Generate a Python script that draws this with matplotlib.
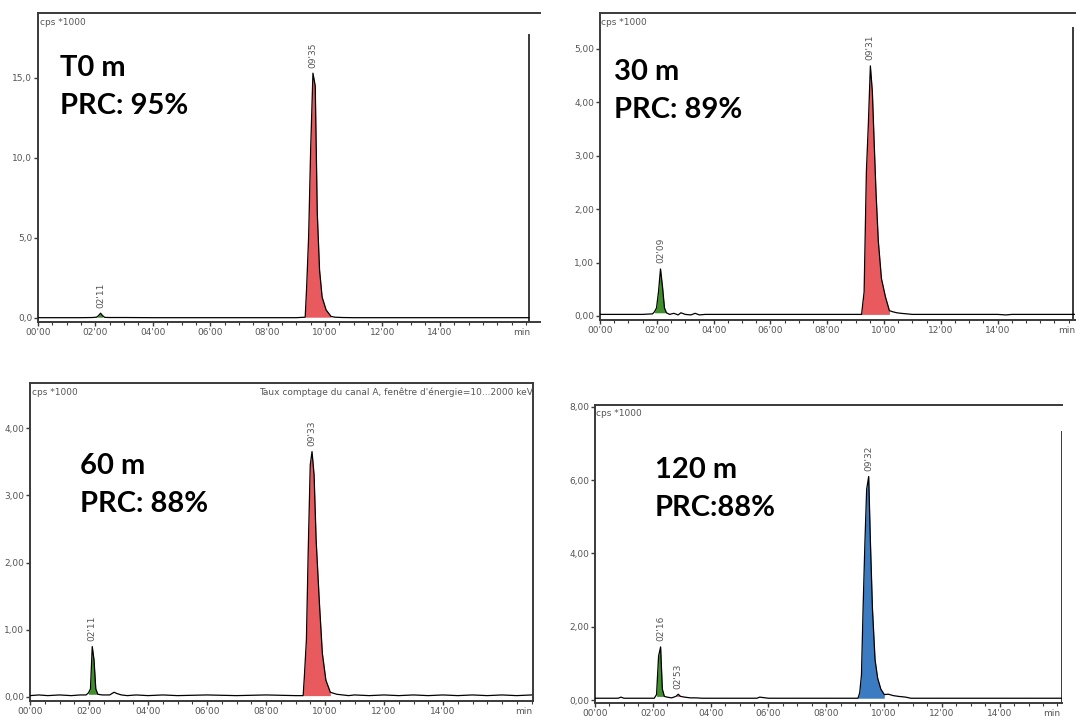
"""Four radio-HPLC chromatograms (T0, 30, 60, 120 min) in a 2x2 screenshot layout."""
import matplotlib
matplotlib.use("Agg")
import matplotlib.pyplot as plt
from matplotlib.ticker import FuncFormatter, MultipleLocator, FixedLocator
import numpy as np

W, H = 1076, 722

# ---- data (time in min, counts in cps*1000) ----
t1 = [0.0, 0.5, 1.0, 1.5, 1.9, 2.04, 2.11, 2.18, 2.25, 2.32, 2.5, 3.0, 4.0, 5.0,
      6.0, 7.0, 8.0, 9.0, 9.31, 9.36, 9.43, 9.50, 9.58, 9.66, 9.73, 9.81, 9.90,
      10.04, 10.21, 10.35, 10.6, 11.0, 12.0, 13.0, 14.0, 15.0, 16.0, 17.1]
y1 = [0.02, 0.02, 0.02, 0.02, 0.03, 0.05, 0.15, 0.3, 0.15, 0.04, 0.03, 0.03, 0.02, 0.02,
      0.02, 0.02, 0.02, 0.02, 0.05, 1.9, 5.1, 10.5, 15.3, 14.5, 6.6, 3.0, 1.3,
      0.5, 0.1, 0.05, 0.03, 0.02, 0.02, 0.02, 0.02, 0.02, 0.02, 0.02]

t2 = [0.0, 0.5, 1.0, 1.5, 1.85, 1.92, 1.99, 2.06, 2.13, 2.2, 2.27, 2.34, 2.45, 2.6,
      2.75, 2.85, 3.0, 3.2, 3.35, 3.5, 3.7, 4.5, 6.0, 8.0, 9.0, 9.21, 9.30, 9.38,
      9.45, 9.52, 9.59, 9.65, 9.72, 9.80, 9.91, 10.05, 10.19, 10.3, 10.45, 10.6, 11.0,
      12.0, 13.0, 14.0, 14.3, 14.5, 15.0, 16.0, 16.7]
y2 = [0.03, 0.03, 0.03, 0.03, 0.04, 0.08, 0.15, 0.45, 0.88, 0.55, 0.15, 0.06, 0.03, 0.05,
      0.02, 0.06, 0.03, 0.02, 0.05, 0.02, 0.03, 0.03, 0.03, 0.03, 0.03, 0.03, 0.45, 2.7,
      3.6, 4.68, 4.2, 3.3, 2.3, 1.4, 0.7, 0.36, 0.1, 0.08, 0.06, 0.05, 0.03,
      0.03, 0.03, 0.03, 0.02, 0.03, 0.03, 0.03, 0.03]

t3 = [0.0, 0.3, 0.6, 1.0, 1.4, 1.7, 1.9, 1.98, 2.05, 2.11, 2.17, 2.23, 2.3, 2.45,
      2.7, 2.85, 2.95, 3.1, 3.3, 3.6, 4.0, 4.5, 5.0, 6.0, 7.0, 8.0, 9.0, 9.26,
      9.30, 9.37, 9.43, 9.50, 9.56, 9.63, 9.70, 9.81, 9.91, 10.03, 10.18, 10.40, 10.6,
      10.8, 11.0, 11.5, 12.0, 12.5, 13.0, 13.5, 14.0, 14.5, 15.0, 15.5, 16.0, 16.5, 17.0]
y3 = [0.02, 0.03, 0.02, 0.03, 0.02, 0.03, 0.03, 0.06, 0.12, 0.75, 0.55, 0.12, 0.04, 0.03,
      0.03, 0.07, 0.05, 0.03, 0.02, 0.03, 0.02, 0.03, 0.02, 0.03, 0.02, 0.03, 0.02, 0.02,
      0.3, 0.85, 2.15, 3.45, 3.65, 3.3, 2.33, 1.4, 0.65, 0.25, 0.07, 0.04, 0.03,
      0.02, 0.03, 0.02, 0.03, 0.02, 0.03, 0.02, 0.03, 0.02, 0.03, 0.02, 0.03, 0.02, 0.03]

t4 = [0.0, 0.4, 0.8, 0.9, 1.0, 1.4, 1.8, 2.05, 2.13, 2.20, 2.27, 2.33, 2.40, 2.5,
      2.65, 2.80, 2.88, 2.96, 3.1, 3.3, 3.5, 3.7, 4.0, 5.0, 5.6, 5.7, 6.0, 7.0, 8.0,
      8.9, 9.10, 9.16, 9.22, 9.28, 9.34, 9.40, 9.47, 9.53, 9.60, 9.69, 9.78, 9.89,
      10.01, 10.15, 10.33, 10.51, 10.75, 10.93, 11.1, 12.0, 13.0, 14.0, 15.0, 16.2]
y4 = [0.05, 0.05, 0.05, 0.08, 0.05, 0.05, 0.05, 0.05, 0.15, 1.2, 1.45, 0.3, 0.1, 0.08,
      0.06, 0.1, 0.16, 0.1, 0.08, 0.06, 0.06, 0.05, 0.05, 0.05, 0.05, 0.08, 0.05, 0.05, 0.05,
      0.05, 0.05, 0.2, 0.68, 2.6, 4.3, 5.75, 6.1, 4.3, 2.5, 1.1, 0.6, 0.3,
      0.15, 0.16, 0.12, 0.1, 0.08, 0.05, 0.05, 0.05, 0.05, 0.05, 0.05, 0.05]

# peak windows: (start, end, colour, label)
peaks1 = [(2.0, 2.3, "#3f8f2a", "02'11"), (9.31, 10.3, "#e85a5e", "09'35")]
peaks2 = [(1.88, 2.34, "#3f8f2a", "02'09"), (9.21, 10.19, "#e85a5e", "09'31")]
peaks3 = [(1.95, 2.3, "#3f8f2a", "02'11"), (9.26, 10.2, "#e85a5e", "09'33")]
peaks4 = [(2.1, 2.4, "#3f8f2a", "02'16"), (2.80, 2.96, "#e85a5e", "02'53"),
          (9.10, 10.05, "#3b7bc2", "09'32")]

titles = [("T0 m", "PRC: 95%"), ("30 m", "PRC: 89%"), ("60 m", "PRC: 88%"), ("120 m", "PRC:88%")]
xticks = [0, 2, 4, 6, 8, 10, 12, 14]

# panel geometry in pixels: left, right, top, bottom, px per min
panels = [
    dict(t=t1, y=y1, peaks=peaks1, box=(38, 540, 13, 322), ppm=28.7, ylim=(-0.25, 19.06),
         ystep=5, dec=1, rline=(17.1, 0.93), txt=(60, 68), minx=16.85),
    dict(t=t2, y=y2, peaks=peaks2, box=(600, 1076, 13, 320), ppm=28.4, ylim=(-0.075, 5.67),
         ystep=1, dec=2, rline=(16.65, 0.95), txt=(614, 72), minx=16.45),
    dict(t=t3, y=y3, peaks=peaks3, box=(30, 533, 383, 701), ppm=29.5, ylim=(-0.06, 4.67),
         ystep=1, dec=2, rline=None, txt=(80, 466), minx=16.75),
    dict(t=t4, y=y4, peaks=peaks4, box=(595, 1062, 405, 703), ppm=28.9, ylim=(-0.08, 8.05),
         ystep=2, dec=2, rline=(16.16, 0.91), txt=(655, 470), minx=15.8),
]

EDGE = "#3a3a3a"
TICK = "#555555"


def mmss(v, _pos):
    sec = int(round(v * 60))
    return f"{sec // 60:02d}'{sec % 60:02d}"


fig = plt.figure(figsize=(W / 100, H / 100), dpi=100)

for i, p in enumerate(panels):
    l, r, top, bot = p["box"]
    ax = fig.add_axes([l / W, 1 - bot / H, (r - l) / W, (bot - top) / H])
    t = np.array(p["t"])
    y = np.array(p["y"])

    for a, b, col, lab in p["peaks"]:
        mask = (t >= a) & (t <= b)
        base = min(y[mask][0], y[mask][-1])
        ax.fill_between(t, base, y, where=mask, color=col, lw=0, zorder=2)
        k = np.argmax(np.where(mask, y, -1))
        ax.annotate(lab, (t[k], y[k]), xytext=(0, 4), textcoords="offset points",
                    rotation=90, ha="center", va="bottom", fontsize=6.5, color=TICK)
    ax.plot(t, y, color="black", lw=0.9, zorder=3)

    ax.set_xlim(0, (r - l) / p["ppm"])
    ax.set_ylim(*p["ylim"])
    ax.xaxis.set_major_locator(FixedLocator(xticks))
    ax.xaxis.set_minor_locator(MultipleLocator(0.5))
    ax.xaxis.set_major_formatter(FuncFormatter(mmss))
    ax.yaxis.set_major_locator(MultipleLocator(p["ystep"]))
    dec = p["dec"]
    ax.yaxis.set_major_formatter(FuncFormatter(lambda v, _p, d=dec: f"{v:.{d}f}".replace(".", ",")))
    ax.tick_params(axis="both", which="major", labelsize=6.5, labelcolor=TICK, color=EDGE,
                   length=3, width=1, pad=1)
    ax.tick_params(axis="x", which="minor", length=2, width=0.8, color=EDGE)

    for side in ("left", "top", "bottom", "right"):
        ax.spines[side].set_color(EDGE)
        ax.spines[side].set_linewidth(1.4)
    if p["rline"] is not None:
        ax.spines["right"].set_visible(False)
        xr, frac = p["rline"]
        ax.axvline(xr, ymin=0, ymax=frac, color=EDGE, lw=1.4)

    ax.text(0.003, 0.985, "cps *1000", transform=ax.transAxes, ha="left", va="top",
            fontsize=6.5, color=TICK)
    ax.annotate("min", (p["minx"], 0), xycoords=("data", "axes fraction"),
                xytext=(0, -4), textcoords="offset points", ha="center", va="top",
                fontsize=6.5, color=TICK)
    if i == 2:
        ax.text(0.999, 0.985, "Taux comptage du canal A, fenêtre d'énergie=10...2000 keV",
                transform=ax.transAxes, ha="right", va="top", fontsize=6.5, color=TICK)

    tx, ty = p["txt"]
    fig.text(tx / W, 1 - ty / H, titles[i][0], fontsize=21, fontweight="bold",
             family=["Lato", "DejaVu Sans"], ha="left", va="center")
    fig.text(tx / W, 1 - (ty + 38) / H, titles[i][1], fontsize=21, fontweight="bold",
             family=["Lato", "DejaVu Sans"], ha="left", va="center")

fig.savefig("out.png", dpi=100)
